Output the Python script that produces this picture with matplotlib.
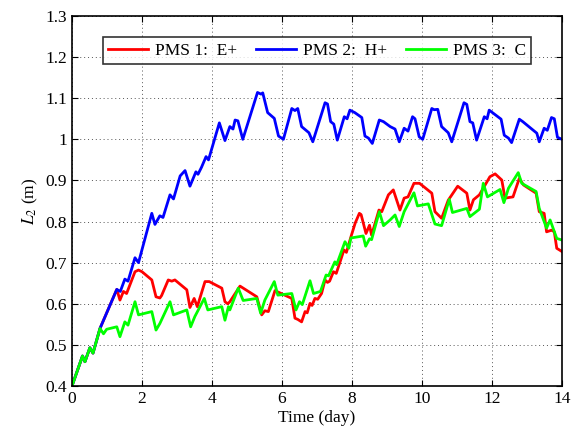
import matplotlib
matplotlib.use("Agg")
import matplotlib.pyplot as plt

plt.rcParams['font.family'] = ['Liberation Serif', 'DejaVu Serif']
plt.rcParams['mathtext.fontset'] = 'stix'

# Blue: PMS 2: H+
t_blue = [0, 0.3, 0.37, 0.51, 0.6, 0.8, 1.28, 1.38, 1.51, 1.6, 1.8, 1.9, 2.28, 2.37, 2.51, 2.6,
          2.8, 2.9, 3.09, 3.23, 3.37, 3.54, 3.6, 3.7, 3.83, 3.9, 4.21, 4.37, 4.51, 4.6, 4.66,
          4.74, 4.88, 5.3, 5.4, 5.45, 5.59, 5.78, 5.9, 6.04, 6.28, 6.37, 6.45, 6.56, 6.77,
          6.88, 7.23, 7.3, 7.39, 7.48, 7.58, 7.78, 7.86, 7.94, 8.08, 8.28, 8.37, 8.47, 8.58,
          8.78, 8.9, 9.09, 9.23, 9.35, 9.49, 9.6, 9.73, 9.8, 9.92, 10.02, 10.28, 10.35, 10.45,
          10.56, 10.75, 10.85, 11.2, 11.28, 11.37, 11.45, 11.56, 11.78, 11.86, 11.92, 12.26,
          12.35, 12.47, 12.56, 12.78, 12.88, 13.28, 13.35, 13.49, 13.58, 13.7, 13.78, 13.87, 14.0]
y_blue = [0.4, 0.473, 0.459, 0.493, 0.48, 0.54, 0.635, 0.63, 0.66, 0.655, 0.712, 0.70, 0.82,
          0.793, 0.814, 0.81, 0.865, 0.855, 0.911, 0.924, 0.886, 0.921, 0.915, 0.932, 0.958,
          0.95, 1.04, 0.997, 1.031, 1.025, 1.047, 1.045, 1.0, 1.114, 1.11, 1.113, 1.065, 1.051,
          1.008, 1.0, 1.075, 1.07, 1.075, 1.031, 1.016, 0.994, 1.089, 1.086, 1.043, 1.037,
          0.998, 1.055, 1.05, 1.071, 1.065, 1.053, 1.008, 1.003, 0.99, 1.047, 1.043, 1.031,
          1.025, 0.994, 1.027, 1.02, 1.055, 1.05, 1.006, 1.0, 1.075, 1.072, 1.073, 1.031,
          1.016, 0.994, 1.089, 1.085, 1.043, 1.04, 0.998, 1.055, 1.05, 1.071, 1.049, 1.01,
          1.003, 0.992, 1.049, 1.043, 1.015, 0.994, 1.027, 1.022, 1.053, 1.05, 1.005, 1.0]

# Red: PMS 1: E+
t_red = [0, 0.3, 0.37, 0.51, 0.6, 0.8, 1.28, 1.37, 1.47, 1.56, 1.8, 1.9, 2.0, 2.28, 2.4, 2.51,
         2.56, 2.75, 2.85, 2.94, 3.28, 3.37, 3.49, 3.58, 3.8, 3.92, 4.28, 4.37, 4.45, 4.51,
         4.8, 5.28, 5.42, 5.51, 5.61, 5.8, 6.28, 6.37, 6.45, 6.56, 6.66, 6.72, 6.8, 6.86,
         6.94, 7.02, 7.13, 7.23, 7.3, 7.36, 7.47, 7.55, 7.66, 7.77, 7.84, 7.97, 8.09, 8.21,
         8.26, 8.4, 8.5, 8.56, 8.77, 8.85, 9.04, 9.18, 9.37, 9.49, 9.6, 9.77, 9.93, 10.28,
         10.37, 10.56, 10.75, 11.02, 11.28, 11.37, 11.47, 11.64, 11.94, 12.09, 12.28, 12.37,
         12.6, 12.78, 12.9, 13.26, 13.35, 13.49, 13.56, 13.7, 13.78, 13.85, 14.0]
y_red = [0.4, 0.473, 0.459, 0.493, 0.48, 0.54, 0.635, 0.609, 0.63, 0.625, 0.678, 0.682, 0.678,
         0.658, 0.617, 0.614, 0.62, 0.658, 0.655, 0.658, 0.634, 0.591, 0.613, 0.593, 0.654,
         0.654, 0.638, 0.605, 0.6, 0.605, 0.643, 0.617, 0.573, 0.583, 0.581, 0.632, 0.613,
         0.565, 0.562, 0.556, 0.581, 0.578, 0.601, 0.596, 0.613, 0.611, 0.625, 0.658, 0.652,
         0.655, 0.678, 0.674, 0.702, 0.731, 0.725, 0.763, 0.796, 0.82, 0.817, 0.771, 0.791,
         0.767, 0.828, 0.824, 0.865, 0.877, 0.828, 0.857, 0.86, 0.893, 0.893, 0.869, 0.824,
         0.808, 0.852, 0.886, 0.869, 0.828, 0.853, 0.865, 0.909, 0.916, 0.901, 0.857, 0.86,
         0.905, 0.889, 0.869, 0.824, 0.82, 0.775, 0.779, 0.775, 0.735, 0.727]

# Green: PMS 3: C
t_green = [0, 0.3, 0.37, 0.51, 0.6, 0.8, 0.9, 0.99, 1.28, 1.37, 1.51, 1.6, 1.8, 1.9, 2.28, 2.4,
           2.51, 2.8, 2.9, 3.28, 3.39, 3.51, 3.78, 3.88, 4.28, 4.37, 4.47, 4.51, 4.75, 4.89,
           5.28, 5.39, 5.51, 5.78, 5.88, 6.28, 6.4, 6.5, 6.58, 6.8, 6.9, 7.1, 7.26, 7.33,
           7.51, 7.56, 7.8, 7.91, 7.97, 8.32, 8.39, 8.5, 8.56, 8.78, 8.9, 9.09, 9.23, 9.35,
           9.49, 9.77, 9.87, 10.18, 10.37, 10.56, 10.78, 10.87, 11.28, 11.37, 11.64, 11.75,
           11.87, 12.23, 12.34, 12.47, 12.75, 12.85, 13.26, 13.35, 13.56, 13.66, 13.85, 14.0]
y_green = [0.4, 0.473, 0.459, 0.493, 0.48, 0.54, 0.527, 0.538, 0.544, 0.52, 0.556, 0.548,
           0.605, 0.573, 0.581, 0.536, 0.552, 0.605, 0.573, 0.585, 0.544, 0.569, 0.613, 0.585,
           0.593, 0.56, 0.593, 0.585, 0.638, 0.608, 0.613, 0.577, 0.609, 0.654, 0.621, 0.625,
           0.585, 0.605, 0.598, 0.656, 0.625, 0.63, 0.67, 0.668, 0.702, 0.695, 0.751, 0.735,
           0.76, 0.765, 0.74, 0.758, 0.756, 0.824, 0.79, 0.804, 0.816, 0.788, 0.824, 0.87,
           0.838, 0.843, 0.794, 0.79, 0.854, 0.822, 0.832, 0.812, 0.83, 0.893, 0.86, 0.878,
           0.846, 0.881, 0.919, 0.893, 0.873, 0.832, 0.784, 0.804, 0.759, 0.755]

labels = ['PMS 1:  E+', 'PMS 2:  H+', 'PMS 3:  C']
x_ticks = [0, 2, 4, 6, 8, 10, 12, 14]
y_ticks = [0.4, 0.5, 0.6, 0.7, 0.8, 0.9, 1.0, 1.1, 1.2, 1.3]
y_ticklabels = ['0.4', '0.5', '0.6', '0.7', '0.8', '0.9', '1', '1.1', '1.2', '1.3']

fig = plt.figure(figsize=(5.8, 4.36), dpi=100)
ax = fig.add_axes([72/580, 1-386/436, 490/580, 370/436])

ax.plot(t_red, y_red, color='#ff0000', lw=2, label=labels[0])
ax.plot(t_blue, y_blue, color='#0000ff', lw=2, label=labels[1])
ax.plot(t_green, y_green, color='#00ff00', lw=2, label=labels[2])

ax.set_xlim(0, 14)
ax.set_ylim(0.4, 1.3)
ax.set_xticks(x_ticks)
ax.set_yticks(y_ticks)
ax.set_yticklabels(y_ticklabels)
ax.tick_params(direction='in', length=4, labelsize=12.5, top=True, right=True, width=0.8)
ax.grid(True, linestyle=(0, (1, 3)), color='#555555', linewidth=0.7)
for s in ax.spines.values():
    s.set_linewidth(1.2)

ax.set_xlabel('Time (day)', fontsize=12.5, labelpad=2)
ax.set_ylabel('$L_2$ (m)', fontsize=12.5, labelpad=4)

leg = ax.legend(loc='upper center', bbox_to_anchor=(0.5, 0.942), ncol=3, fontsize=12.5,
                frameon=True, fancybox=False, edgecolor='black', handlelength=2.3,
                handletextpad=0.4, columnspacing=1.1, borderpad=0.3, borderaxespad=0)
leg.get_frame().set_linewidth(1.2)

fig.savefig('out.png', dpi=100)
